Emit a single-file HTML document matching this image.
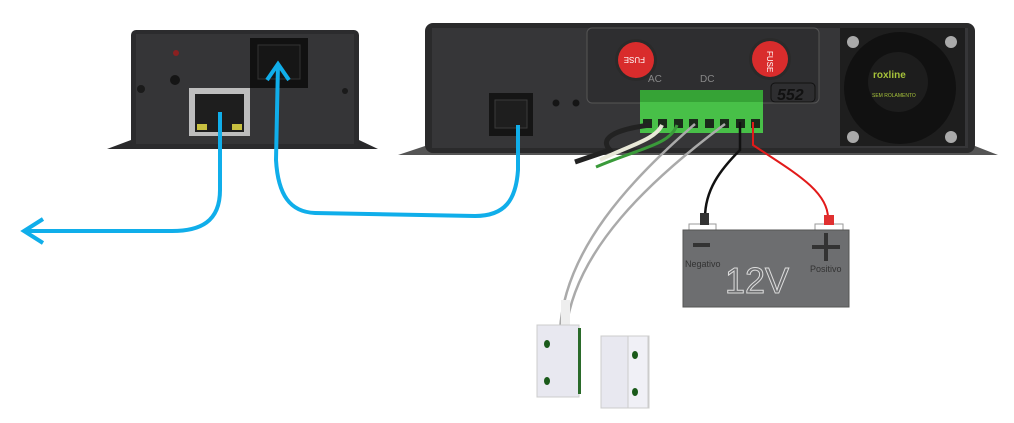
<!DOCTYPE html>
<html><head><meta charset="utf-8"><style>
html,body{margin:0;padding:0;background:#fff;width:1014px;height:423px;overflow:hidden}
svg{display:block}
text{font-family:"Liberation Sans",sans-serif}
</style></head><body>
<svg width="1014" height="423" viewBox="0 0 1014 423" xmlns="http://www.w3.org/2000/svg">
<!-- left device -->
<polygon points="107,149 131,140 359,140 378,149" fill="#2a2a2c"/>
<rect x="131" y="30" width="228" height="118" rx="5" fill="#2b2b2d"/>
<rect x="136" y="34" width="218" height="110" fill="#353537"/>
<circle cx="176" cy="53" r="3" fill="#8a2020"/>
<circle cx="175" cy="80" r="5" fill="#151515"/>
<circle cx="141" cy="89" r="4" fill="#1a1a1a"/>
<circle cx="345" cy="91" r="3" fill="#1a1a1a"/>
<rect x="189" y="88" width="61" height="48" fill="#bdbdbd"/>
<rect x="195" y="94" width="49" height="38" fill="#1e1e1e"/>
<rect x="197" y="124" width="10" height="6" fill="#c8c040"/>
<rect x="232" y="124" width="10" height="6" fill="#c8c040"/>
<rect x="250" y="38" width="58" height="50" fill="#111"/>
<rect x="258" y="45" width="42" height="34" fill="#161616" stroke="#333"/>
<!-- main device -->
<polygon points="398,155 425,146 975,146 998,155" fill="#555"/>
<rect x="425" y="23" width="550" height="130" rx="8" fill="#2a2a2b"/>
<rect x="432" y="28" width="536" height="120" fill="#363638"/>
<rect x="587" y="28" width="232" height="75" rx="5" fill="#2e2e30" stroke="#555" stroke-width="1"/>
<circle cx="636" cy="60" r="21" fill="#2a2a2a"/>
<circle cx="636" cy="60" r="18" fill="#d92c2c"/>
<text x="627" y="63" font-size="8" fill="#fff" transform="rotate(180 636 60)">FUSE</text>
<circle cx="770" cy="59" r="21" fill="#2a2a2a"/>
<circle cx="770" cy="59" r="18" fill="#d92c2c"/>
<text x="762" y="62" font-size="8" fill="#fff" transform="rotate(90 770 59)">FUSE</text>
<text x="648" y="82" font-size="10" fill="#888">AC</text>
<text x="700" y="82" font-size="10" fill="#888">DC</text>
<text x="777" y="100" font-size="16" font-weight="bold" font-style="italic" fill="#111">552</text>
<rect x="771" y="83" width="44" height="19" rx="4" fill="none" stroke="#111"/>
<rect x="489" y="93" width="44" height="43" fill="#151515"/>
<rect x="495" y="100" width="32" height="28" fill="#1e1e1e" stroke="#3a3a3a"/>
<circle cx="556" cy="103" r="3.5" fill="#151515"/><circle cx="576" cy="103" r="3.5" fill="#151515"/>
<!-- fan -->
<rect x="840" y="28" width="125" height="118" fill="#1e1e1e"/>
<circle cx="900" cy="88" r="56" fill="#111"/>
<circle cx="898" cy="82" r="30" fill="#1d1d1d"/>
<text x="873" y="78" font-size="10" font-weight="bold" fill="#a6c23a">roxline</text>
<text x="872" y="97" font-size="5" fill="#a6c23a">SEM ROLAMENTO</text>
<circle cx="853" cy="42" r="6" fill="#aaa"/><circle cx="951" cy="42" r="6" fill="#aaa"/>
<circle cx="853" cy="137" r="6" fill="#aaa"/><circle cx="951" cy="137" r="6" fill="#aaa"/>
<!-- green connector -->
<rect x="640" y="90" width="123" height="12" fill="#36a336"/>
<rect x="640" y="102" width="123" height="31" fill="#48c048"/>
<g fill="#1a2a1a">
<rect x="643" y="119" width="9" height="9"/><rect x="658" y="119" width="9" height="9"/><rect x="674" y="119" width="9" height="9"/><rect x="689" y="119" width="9" height="9"/><rect x="705" y="119" width="9" height="9"/><rect x="720" y="119" width="9" height="9"/><rect x="736" y="119" width="9" height="9"/><rect x="751" y="119" width="9" height="9"/>
</g>
<!-- wires to AC -->
<path d="M650,125 C610,130 600,140 610,150 L575,162" stroke="#222" stroke-width="5" fill="none"/>
<path d="M662,125 C655,140 630,145 600,160" stroke="#e8e8d8" stroke-width="4" fill="none"/>
<path d="M677,125 C670,145 640,148 596,167" stroke="#3a9a3a" stroke-width="3" fill="none"/>
<!-- gray sensor wires -->
<path d="M695,124 C630,180 565,250 560,330" stroke="#aaa" stroke-width="2.5" fill="none"/>
<path d="M725,124 C650,180 575,250 566,330" stroke="#aaa" stroke-width="2.5" fill="none"/>
<!-- battery wires -->
<path d="M740,122 L740,150 C720,170 705,190 705,218" stroke="#111" stroke-width="2.5" fill="none"/>
<path d="M753,122 L753,145 C790,170 828,190 828,218" stroke="#e21a1a" stroke-width="2" fill="none"/>
<!-- battery -->
<rect x="689" y="224" width="27" height="6" fill="#fff" stroke="#999"/>
<rect x="700" y="213" width="9" height="12" fill="#333"/>
<rect x="815" y="224" width="28" height="6" fill="#fff" stroke="#999"/>
<rect x="824" y="215" width="10" height="10" fill="#e03030"/>
<rect x="683" y="230" width="166" height="77" fill="#6d6e70" stroke="#555"/>
<rect x="693" y="243" width="17" height="4" fill="#333"/>
<rect x="812" y="245" width="28" height="4" fill="#333"/><rect x="824" y="233" width="4" height="28" fill="#333"/>
<text x="685" y="267" font-size="9" fill="#333">Negativo</text>
<text x="810" y="272" font-size="9" fill="#333">Positivo</text>
<text x="725" y="293" font-size="36" fill="none" stroke="#ddd" stroke-width="1">12V</text>
<!-- sensors -->
<rect x="561" y="300" width="9" height="28" fill="#eee"/>
<rect x="537" y="325" width="42" height="72" fill="#e8e8f0" stroke="#ccc"/>
<rect x="578" y="328" width="3" height="66" fill="#2a6a2a"/>
<ellipse cx="547" cy="344" rx="3" ry="4" fill="#1a5a1a"/><ellipse cx="547" cy="381" rx="3" ry="4" fill="#1a5a1a"/>
<rect x="601" y="336" width="48" height="72" fill="#e8e8f0" stroke="#ccc"/>
<rect x="628" y="336" width="20" height="72" fill="#f0f0f6" stroke="#ccc"/>
<ellipse cx="635" cy="355" rx="3" ry="4" fill="#1a5a1a"/><ellipse cx="635" cy="392" rx="3" ry="4" fill="#1a5a1a"/>
<!-- blue lines -->
<path d="M220,112 L220,190 C220,222 200,231 172,231 L24,231" stroke="#10aeea" stroke-width="4" fill="none"/>
<path d="M43,219 L24,231 L43,243" stroke="#10aeea" stroke-width="4" fill="none"/>
<path d="M518,125 L518,170 C516,200 505,216 475,216 L315,213 C290,212 278,195 276,160 L278,64" stroke="#10aeea" stroke-width="4" fill="none"/>
<path d="M267,80 L278,64 L289,80" stroke="#10aeea" stroke-width="4" fill="none"/>
</svg>
</body></html>
